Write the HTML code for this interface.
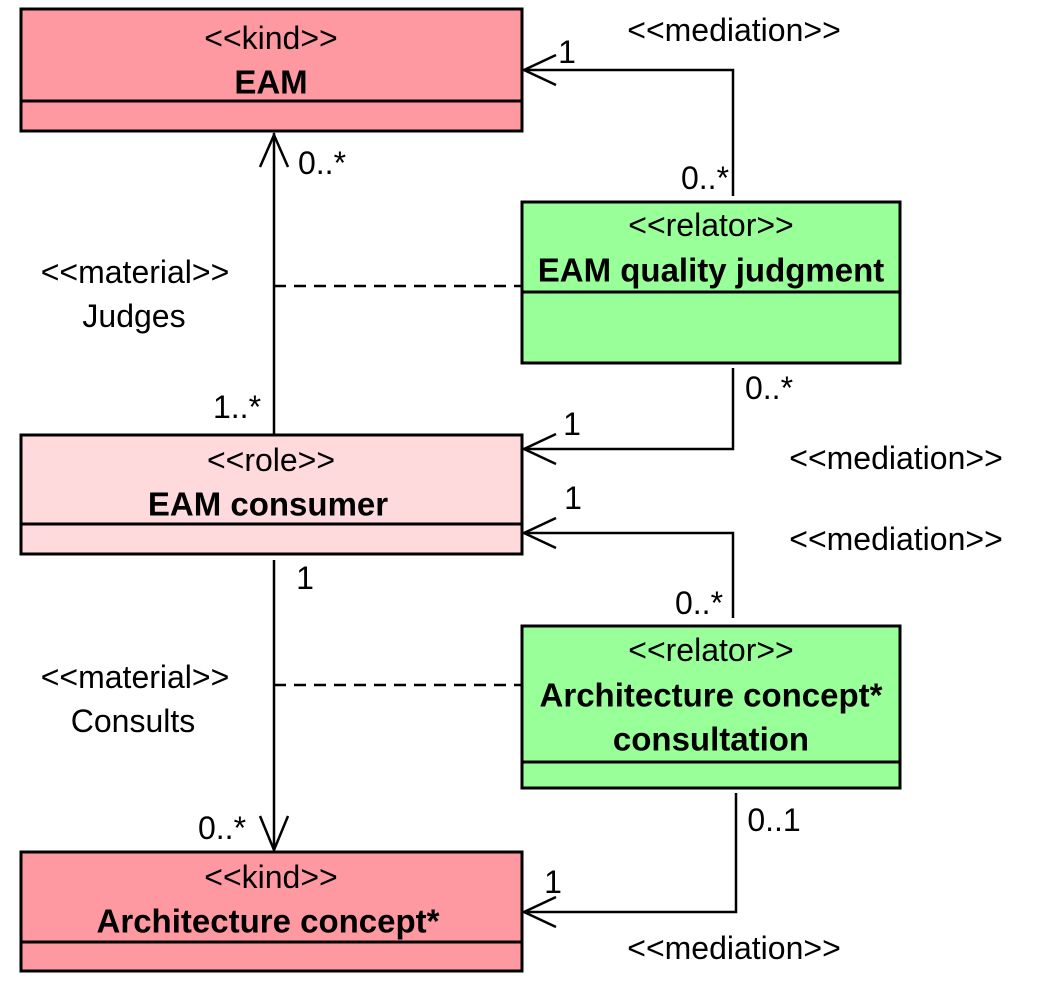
<!DOCTYPE html>
<html><head><meta charset="utf-8"><style>
html,body{margin:0;padding:0;background:#fff;}
svg{display:block;font-family:"Liberation Sans",Arial,sans-serif;}
</style></head><body>
<svg width="1053" height="984" viewBox="0 0 1053 984" xmlns="http://www.w3.org/2000/svg">
<g stroke="#000" stroke-width="3">
<rect x="21" y="9" width="501" height="122" fill="#ff99a1"/>
<line x1="21" y1="101" x2="522" y2="101"/>
<rect x="522" y="202" width="378" height="161" fill="#99ff99"/>
<line x1="522" y1="292" x2="900" y2="292"/>
<rect x="21" y="435" width="501" height="119" fill="#ffdadd"/>
<line x1="21" y1="524" x2="522" y2="524"/>
<rect x="522" y="626" width="378" height="162" fill="#99ff99"/>
<line x1="522" y1="762" x2="900" y2="762"/>
<rect x="21" y="852" width="501" height="119" fill="#ff99a1"/>
<line x1="21" y1="942" x2="522" y2="942"/>
</g>
<g stroke="#000" stroke-width="2.5" fill="none">
<line x1="274" y1="133" x2="274" y2="435"/>
<polyline points="260,167 274,135 288,167"/>
<line x1="274" y1="286" x2="522" y2="286" stroke-dasharray="12,8"/>
<polyline points="733,196 733,70 524,70"/>
<polyline points="556,55 524,70 556,85"/>
<polyline points="733,368 733,449 524,449"/>
<polyline points="556,434 524,449 556,464"/>
<polyline points="733,618 733,533 524,533"/>
<polyline points="556,518 524,533 556,548"/>
<line x1="274" y1="560" x2="274" y2="850"/>
<polyline points="260,816 274,850 288,816"/>
<line x1="274" y1="685" x2="522" y2="685" stroke-dasharray="12,8"/>
<polyline points="736,793 736,912 524,912"/>
<polyline points="556,897 524,912 556,927"/>
</g>
<g font-size="32" fill="#000" text-anchor="middle" dominant-baseline="central">
<text x="271" y="38">&lt;&lt;kind&gt;&gt;</text>
<text x="271" y="82" font-weight="bold" font-size="33">EAM</text>
<text x="711" y="225">&lt;&lt;relator&gt;&gt;</text>
<text x="711" y="270" font-weight="bold" font-size="33">EAM quality judgment</text>
<text x="271" y="460">&lt;&lt;role&gt;&gt;</text>
<text x="268" y="504" font-weight="bold" font-size="33">EAM consumer</text>
<text x="711" y="650">&lt;&lt;relator&gt;&gt;</text>
<text x="711" y="695" font-weight="bold" font-size="33">Architecture concept*</text>
<text x="711" y="739" font-weight="bold" font-size="33">consultation</text>
<text x="271" y="877">&lt;&lt;kind&gt;&gt;</text>
<text x="268" y="921" font-weight="bold" font-size="33">Architecture concept*</text>

<text x="734" y="30">&lt;&lt;mediation&gt;&gt;</text>
<text x="567" y="52">1</text>
<text x="705" y="178">0..*</text>
<text x="322" y="163">0..*</text>
<text x="135" y="272">&lt;&lt;material&gt;&gt;</text>
<text x="134" y="316">Judges</text>
<text x="237" y="407">1..*</text>
<text x="769" y="388">0..*</text>
<text x="572" y="424">1</text>
<text x="896" y="458">&lt;&lt;mediation&gt;&gt;</text>
<text x="573" y="498">1</text>
<text x="896" y="539">&lt;&lt;mediation&gt;&gt;</text>
<text x="305" y="578">1</text>
<text x="699" y="603">0..*</text>
<text x="135" y="677">&lt;&lt;material&gt;&gt;</text>
<text x="133" y="721">Consults</text>
<text x="222" y="828">0..*</text>
<text x="774" y="820">0..1</text>
<text x="553" y="882">1</text>
<text x="734" y="948">&lt;&lt;mediation&gt;&gt;</text>
</g>
</svg>
</body></html>
